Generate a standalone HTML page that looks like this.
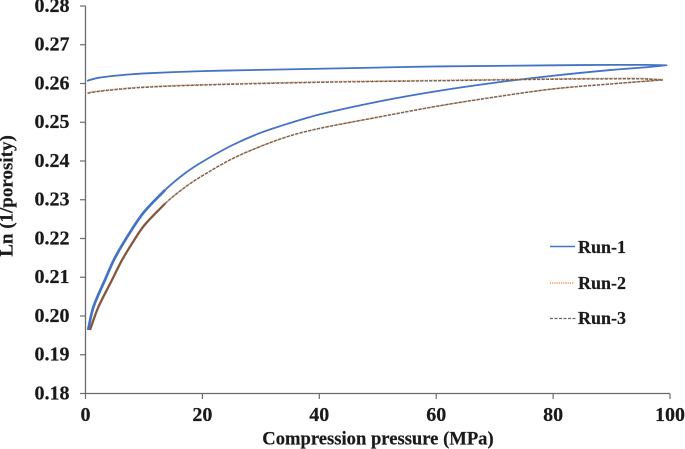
<!DOCTYPE html>
<html lang="en">
<head>
<meta charset="utf-8">
<title>Compression chart</title>
<style>
html,body{margin:0;padding:0;background:#fff}
#chart{display:block;width:685px;height:449px}
text{font-family:"Liberation Serif",serif;font-weight:bold;fill:#1a1a1a;stroke:#1a1a1a;stroke-width:0.2}
</style>
</head>
<body>
<svg id="chart" xmlns="http://www.w3.org/2000/svg" width="685" height="449" viewBox="0 0 685 449"></svg>
<script>
const xTicks = [0, 20, 40, 60, 80, 100];
const yTicks = ["0.18", "0.19", "0.20", "0.21", "0.22", "0.23", "0.24", "0.25", "0.26", "0.27", "0.28"];
const run1Pressure = [0.45, 1.35, 3.3, 5, 7.5, 10, 13.6, 17, 20, 25, 30, 35, 40, 50, 60, 70, 80, 90, 96, 99.4, 96, 90, 80, 60, 40, 20, 10, 5, 2, 0.5, 0.3];
const run1Values = [0.1964, 0.2023, 0.2092, 0.2149, 0.2213, 0.2268, 0.2325, 0.2368, 0.2398, 0.2440, 0.2473, 0.2498, 0.2520, 0.2553, 0.2580, 0.2602, 0.2620, 0.2635, 0.2642, 0.2647, 0.2648, 0.2648, 0.2647, 0.2644, 0.2638, 0.2632, 0.2626, 0.2620, 0.2614, 0.2608, 0.2606];
const run2Pressure = [0.77, 2.2, 4.5, 6.2, 8, 10, 13.6, 17, 20, 25, 30, 35, 40, 50, 60, 70, 80, 90, 98.8, 95, 90, 80, 60, 40, 20, 10, 5, 1, 0.3];
const run2Values = [0.1964, 0.2023, 0.2092, 0.2143, 0.2188, 0.2233, 0.2290, 0.2332, 0.2362, 0.2405, 0.2438, 0.2465, 0.2484, 0.2513, 0.2541, 0.2565, 0.2586, 0.2599, 0.2610, 0.2613, 0.2613, 0.2612, 0.2608, 0.2604, 0.2597, 0.2591, 0.2585, 0.2578, 0.2575];
const run3Pressure = [0.77, 2.2, 4.5, 6.2, 8, 10, 13.6, 17, 20, 25, 30, 35, 40, 50, 60, 70, 80, 90, 98.8, 95, 90, 80, 60, 40, 20, 10, 5, 1, 0.3];
const run3Values = [0.1964, 0.2023, 0.2092, 0.2143, 0.2188, 0.2233, 0.2290, 0.2332, 0.2362, 0.2405, 0.2438, 0.2465, 0.2484, 0.2513, 0.2541, 0.2565, 0.2586, 0.2599, 0.2609, 0.2612, 0.2612, 0.2611, 0.2607, 0.2603, 0.2596, 0.2590, 0.2584, 0.2577, 0.2574];

const svg = document.getElementById('chart');
const NS = 'http://www.w3.org/2000/svg';
const xMap = v => 85.5 + (v / 100) * 584.5;
const yMap = v => 393.5 - ((v - 0.18) / 0.10) * 387.5;

function make(tag, attrs, parent) {
  const el = document.createElementNS(NS, tag);
  Object.keys(attrs).forEach(k => el.setAttribute(k, attrs[k]));
  (parent || svg).appendChild(el);
  return el;
}

function tangent(p, i) {
  const a = p[Math.max(i - 1, 0)], c = p[Math.min(i + 1, p.length - 1)];
  const dx = c[0] - a[0], dy = c[1] - a[1];
  const len = Math.hypot(dx, dy) || 1;
  return [dx / len, dy / len];
}

function smoothSegment(p, first) {
  let d = first ? 'M' + p[0][0].toFixed(2) + ' ' + p[0][1].toFixed(2) : '';
  for (let i = 0; i < p.length - 1; i++) {
    const b = p[i], c = p[i + 1];
    const seg = Math.hypot(c[0] - b[0], c[1] - b[1]) / 3;
    const t0 = tangent(p, i), t1 = tangent(p, i + 1);
    d += ' C' + (b[0] + t0[0] * seg).toFixed(2) + ' ' + (b[1] + t0[1] * seg).toFixed(2) +
         ' ' + (c[0] - t1[0] * seg).toFixed(2) + ' ' + (c[1] - t1[1] * seg).toFixed(2) +
         ' ' + c[0].toFixed(2) + ' ' + c[1].toFixed(2);
  }
  return d;
}

/* The loading and unloading branches meet in a sharp tip at peak pressure, so each is smoothed on its own. */
function loopPath(xs, ys) {
  const p = xs.map((x, i) => [xMap(x), yMap(ys[i])]);
  const tip = xs.indexOf(Math.max.apply(null, xs));
  return smoothSegment(p.slice(0, tip + 1), true) + smoothSegment(p.slice(tip), false);
}

/* The noisy low-pressure start of each loading branch reads as a thicker trace. */
function lowPressurePath(xs, ys, limit) {
  const p = [];
  for (let i = 0; i < xs.length && xs[i] <= limit; i++) p.push([xMap(xs[i]), yMap(ys[i])]);
  return smoothSegment(p, true);
}

const axisColor = '#6b6b6b';

yTicks.forEach(t => {
  const y = yMap(parseFloat(t));
  const tick = make('line', {x1: 80, x2: 85.5, y1: y, y2: y, stroke: axisColor, 'stroke-width': 1.2});
  
  
  const label = make('text', {x: 69.5, y: y + 5.8, 'text-anchor': 'end', 'font-size': 20});
  
  
  label.textContent = t;
});

xTicks.forEach(t => {
  const x = xMap(t);
  const tick = make('line', {x1: x, x2: x, y1: 393.5, y2: 399, stroke: axisColor, 'stroke-width': 1.2});
  
  
  const label = make('text', {x: x, y: 421, 'text-anchor': 'middle', 'font-size': 20});
  
  
  label.textContent = t;
});

const yAxis = make('line', {x1: 85.5, x2: 85.5, y1: 6, y2: 393.5, stroke: axisColor, 'stroke-width': 1.3});


const xAxis = make('line', {x1: 85.5, x2: 670, y1: 393.5, y2: 393.5, stroke: axisColor, 'stroke-width': 1.3});



const line1 = make('path', {d: loopPath(run1Pressure, run1Values), fill: 'none', stroke: '#4472c4', 'stroke-width': 1.8, 'stroke-linejoin': 'round'});


const line1Low = make('path', {d: lowPressurePath(run1Pressure, run1Values, 13.6), fill: 'none', stroke: '#4472c4', 'stroke-width': 2.7});


const line2 = make('path', {d: loopPath(run2Pressure, run2Values), fill: 'none', stroke: '#ed7d31', 'stroke-width': 1.6, 'stroke-dasharray': '1.2 1'});


const line3 = make('path', {d: loopPath(run3Pressure, run3Values), fill: 'none', stroke: '#666666', 'stroke-width': 1.4, 'stroke-dasharray': '3 1.5'});


const line3Low = make('path', {d: lowPressurePath(run3Pressure, run3Values, 13.6), fill: 'none', stroke: '#85563a', 'stroke-width': 2.3});



const yTitle = make('text', {x: 0, y: 0, 'text-anchor': 'middle', 'font-size': 19, transform: 'translate(12.5 196) rotate(-90)'});


yTitle.textContent = 'Ln (1/porosity)';
const xTitle = make('text', {x: 378, y: 444.5, 'text-anchor': 'middle', 'font-size': 18.6});


xTitle.textContent = 'Compression pressure (MPa)';

const legendGroup = make('g', {});



const key1 = make('line', {x1: 550, x2: 575, y1: 246.5, y2: 246.5, stroke: '#4472c4', 'stroke-width': 1.4}, legendGroup);


const key2 = make('line', {x1: 550, x2: 574, y1: 283, y2: 283, stroke: '#ed7d31', 'stroke-width': 1.3, 'stroke-dasharray': '1.2 1'}, legendGroup);


const key3 = make('line', {x1: 550, x2: 576, y1: 318.5, y2: 318.5, stroke: '#666666', 'stroke-width': 1.2, 'stroke-dasharray': '3 1.5'}, legendGroup);



const text1 = make('text', {x: 578, y: 253, 'font-size': 18}, legendGroup);


text1.textContent = 'Run-1';
const text2 = make('text', {x: 578, y: 289, 'font-size': 18}, legendGroup);


text2.textContent = 'Run-2';
const text3 = make('text', {x: 578, y: 324, 'font-size': 18}, legendGroup);


text3.textContent = 'Run-3';
</script>
</body>
</html>
